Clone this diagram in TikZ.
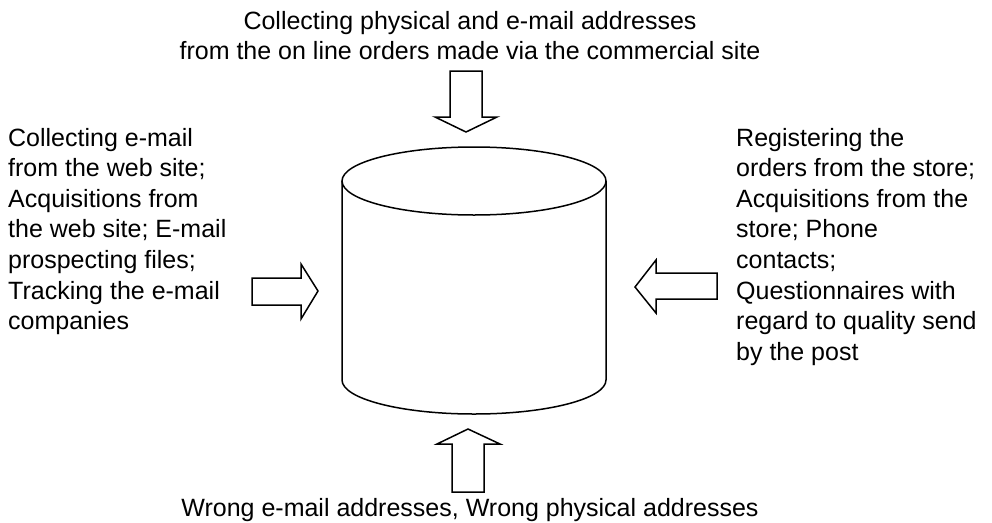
\documentclass[tikz,border=0pt]{standalone}
\usepackage{fontspec}
\setmainfont{Liberation Sans}
\begin{document}
\begin{tikzpicture}[x=1pt,y=-1pt,
  shape line/.style={draw=black,line width=1.5pt,line join=miter},
  label text/.style={inner sep=0pt,font=\fontsize{25}{30.6}\selectfont}]
\useasboundingbox (0,0) rectangle (992,522);
% cylinder
\draw[shape line] (474,181) ellipse [x radius=132, y radius=34];
\draw[shape line] (342,181) -- (342,380) arc[start angle=180,end angle=0,x radius=132,y radius=34] -- (606,181);
% top arrow (down)
\draw[shape line] (450,71) -- (482,71) -- (482,117) -- (497,117) -- (466,132) -- (435,117) -- (450,117) -- cycle;
% bottom arrow (up)
\draw[shape line] (452,492) -- (484,492) -- (484,444) -- (500,444) -- (468,429) -- (437,444) -- (452,444) -- cycle;
% left arrow (right)
\draw[shape line] (252,278) -- (301,278) -- (301,264) -- (318,291) -- (301,319) -- (301,305) -- (252,305) -- cycle;
% right arrow (left)
\draw[shape line] (717,273) -- (656,273) -- (656,260) -- (635,287) -- (656,313) -- (656,299) -- (717,299) -- cycle;
% texts (base anchor = baseline of last line)
\node[label text,anchor=base,align=center] (top) at (470,59.6) {Collecting physical and e-mail addresses\\from the on line orders made via the commercial site};
\node[label text,anchor=base west,align=left] (left) at (8,329.6) {Collecting e-mail\\from the web site;\\Acquisitions from\\the web site; E-mail\\prospecting files;\\Tracking the e-mail\\companies};
\node[label text,anchor=base west,align=left] (right) at (736,360.2) {Registering the\\orders from the store;\\Acquisitions from the\\store; Phone\\contacts;\\Questionnaires with\\regard to quality send\\by the post};
\node[label text,anchor=base] (bottom) at (470,516) {Wrong e-mail addresses, Wrong physical addresses};
\end{tikzpicture}
\end{document}
